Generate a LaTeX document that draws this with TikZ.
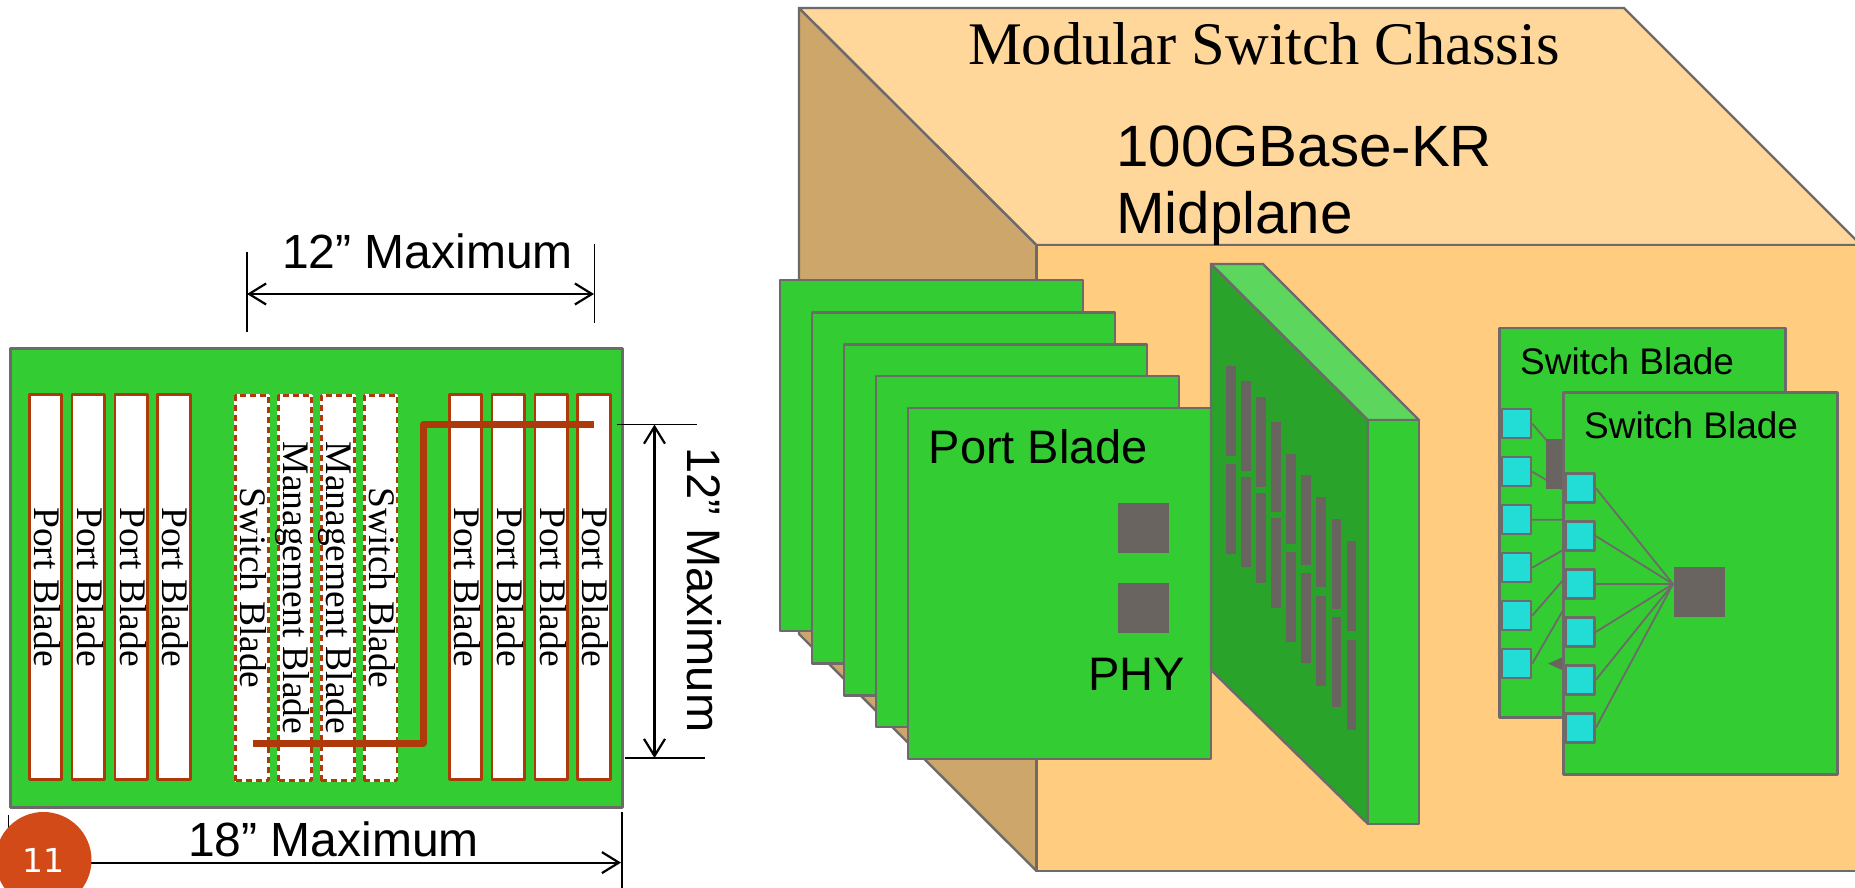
\documentclass[tikz,border=0pt]{standalone}
\usepackage{fontspec}
\setmainfont{Liberation Sans}
\newfontfamily\slotfont{Liberation Serif}
\newfontfamily\pagefont{DejaVu Sans}
\usepackage{tikz}
\usetikzlibrary{arrows.meta,positioning}
\definecolor{chtop}{RGB}{255,215,155}
\definecolor{chfront}{RGB}{255,204,128}
\definecolor{chside}{RGB}{204,166,106}
\definecolor{bdgreen}{RGB}{51,204,51}
\definecolor{bddark}{RGB}{41,163,41}
\definecolor{bdlight}{RGB}{92,214,92}
\definecolor{edgegrey}{RGB}{110,106,106}
\definecolor{chipgrey}{RGB}{105,100,96}
\definecolor{sqcyan}{RGB}{34,221,214}
\definecolor{tracered}{RGB}{174,58,11}
\definecolor{pagered}{RGB}{210,74,23}
\newcommand{\slottext}[1]{\rotatebox{-90}{\slotfont\fontsize{37.5}{40}\selectfont\raisebox{0pt}[0.6em][0pt]{#1}}}

\begin{document}
\begin{tikzpicture}[x=1pt, y=-1pt, node distance=16.6pt and 7.4pt, line join=round,
  faceline/.style={draw=edgegrey, line width=2.4pt},
  blade/.style={rectangle, faceline, fill=bdgreen, inner sep=0pt},
  portblade/.style={blade, minimum width=303pt, minimum height=351pt},
  chip/.style={rectangle, fill=chipgrey, inner sep=0pt, minimum width=51pt, minimum height=50pt},
  midbar/.style={rectangle, fill=chipgrey, inner sep=0pt, anchor=north, minimum width=9.5pt, minimum height=90pt},
  sqport/.style={rectangle, draw=edgegrey, line width=2.4pt, fill=sqcyan, inner sep=0pt, minimum width=29pt, minimum height=29pt},
  wire/.style={draw=edgegrey, line width=1.8pt},
  slot/.style={rectangle, draw=tracered, line width=2.8pt, fill=white, inner sep=0pt, minimum width=32.7pt, minimum height=385pt},
  dashslot/.style={slot, draw=white, postaction={draw=tracered, dash pattern=on 6pt off 4pt}},
  dimarrow/.style={<->, >={Straight Barb[length=17pt, width=21pt]}, line width=2.2pt},
  dimtick/.style={line width=1.5pt},
  txt/.style={anchor=base west, inner sep=0pt},
  bigtxt/.style={txt, font=\fontsize{48}{50}\selectfont},
  swtxt/.style={txt, font=\fontsize{37}{40}\selectfont}]

  \path[use as bounding box, clip] (0,0) rectangle (1855,887.4);
  \fill[white] (0,0) rectangle (1855,889);

  % Chassis
  \path[faceline, fill=chside] (799,8) -- (1036.5,245) -- (1036.5,871) -- (799,634) -- cycle;
  \path[faceline, fill=chtop] (799,8) -- (1624,8) -- (1861,245) -- (1036.5,245) -- cycle;
  \path[faceline, fill=chfront] (1036.5,245) rectangle (1865,871);
  \node[txt, font=\slotfont\fontsize{60.5}{62}\selectfont] (chtitle) at (968,65) {Modular Switch Chassis};
  \node[txt, font=\fontsize{58.3}{60}\selectfont] (kr) at (1116,166.7) {100GBase-KR};
  \node[txt, font=\fontsize{58.3}{60}\selectfont] (midpl) at (1116,233.3) {Midplane};

  % Port blades
  \node[portblade] (pb1) at (931.5,455.5) {};
  \node[portblade] (pb2) at (963.5,488) {};
  \node[portblade] (pb3) at (995.5,520) {};
  \node[portblade] (pb4) at (1027.5,551.5) {};
  \node[portblade] (pb5) at (1059.5,583.5) {};
  \node[bigtxt, font=\fontsize{47}{50}\selectfont] (pbtxt) at (928.5,463) {Port Blade};
  \node[chip] (phya) at (1143.5,528) {};
  \node[chip] (phyb) at (1143.5,608) {};
  \node[bigtxt, font=\fontsize{47}{50}\selectfont] (phytxt) at (1088,690) {PHY};

  % Midplane
  \path[faceline, fill=bddark] (1211,264) -- (1368,420) -- (1368,824) -- (1211,670) -- cycle;
  \path[faceline, fill=bdlight] (1211,264) -- (1263,264) -- (1419,420) -- (1368,420) -- cycle;
  \path[faceline, fill=bdgreen] (1368,420) rectangle (1419,824);

  % Midplane connectors
  \node[midbar] (ua) at (1231,365.5) {};
  \node[midbar] (ub) at (1246,381) {};
  \node[midbar] (uc) at (1261,397) {};
  \node[midbar] (ud) at (1276,422) {};
  \node[midbar] (ue) at (1291,453.5) {};
  \node[midbar] (uf) at (1306,475) {};
  \node[midbar] (ug) at (1321,497) {};
  \node[midbar] (uh) at (1336.5,519) {};
  \node[midbar] (ui) at (1351.5,541) {};
  \node[midbar] (la) at (1231,464) {};
  \node[midbar] (lb) at (1246,477) {};
  \node[midbar] (lc) at (1261,493) {};
  \node[midbar] (ld) at (1276,518) {};
  \node[midbar] (le) at (1291,552) {};
  \node[midbar] (lf) at (1306,573) {};
  \node[midbar] (lg) at (1321,595.5) {};
  \node[midbar] (lh) at (1336.5,617) {};
  \node[midbar] (li) at (1351.5,639.5) {};

  % Rear switch blade
  \node[blade, minimum width=286pt, minimum height=389pt] (swback) at (1642.5,522.8) {};
  \node[swtxt] (swbacktxt) at (1520,374) {Switch Blade};
  \node[sqport] (sqa) at (1516.5,423.7) {};
  \node[sqport, below=of sqa] (sqb) {};
  \node[sqport, below=of sqb] (sqc) {};
  \node[sqport, below=of sqc] (sqd) {};
  \node[sqport, below=of sqd] (sqe) {};
  \node[sqport, below=of sqe] (sqf) {};
  \coordinate (swjoin) at (1615,520);
  \draw[wire] (sqa.east) -- (swjoin);
  \draw[wire] (sqb.east) -- (swjoin);
  \draw[wire] (sqc.east) -- (swjoin);
  \draw[wire] (sqd.east) -- (swjoin);
  \draw[wire] (sqe.east) -- (swjoin);
  \draw[wire] (sqf.east) -- (swjoin);
  \node[chip] (chipback) at (1571.5,464.3) {};
  \fill[chipgrey] (1548,663.6) -- (1563,657) -- (1563,670.5) -- cycle;

  % Front switch blade
  \node[blade, minimum width=274pt, minimum height=382pt] (swfront) at (1700.5,583.5) {};
  \node[swtxt] (swfronttxt) at (1584,438) {Switch Blade};
  \node[sqport] (sqg) at (1580,488) {};
  \node[sqport, below=of sqg] (sqh) {};
  \node[sqport, below=of sqh] (sqi) {};
  \node[sqport, below=of sqi] (sqj) {};
  \node[sqport, below=of sqj] (sqk) {};
  \node[sqport, below=of sqk] (sql) {};
  \node[chip] (chipfront) at (1699.5,592) {};
  \coordinate (frontjoin) at (1673,584);
  \draw[wire] (sqg.east) -- (frontjoin);
  \draw[wire] (sqh.east) -- (frontjoin);
  \draw[wire] (sqi.east) -- (frontjoin);
  \draw[wire] (sqj.east) -- (frontjoin);
  \draw[wire] (sqk.east) -- (frontjoin);
  \draw[wire] (sql.east) -- (frontjoin);

  % Board
  \node[blade, minimum width=612pt, minimum height=459pt] (board) at (316.5,578) {};
  \node[slot] (pa) at (45.5,587) {\slottext{Port Blade}};
  \node[slot, right=of pa] (pb) {\slottext{Port Blade}};
  \node[slot, right=of pb] (pc) {\slottext{Port Blade}};
  \node[slot, right=of pc] (pd) {\slottext{Port Blade}};
  \node[dashslot] (sa) at (252,588) {\slottext{Switch Blade}};
  \node[dashslot, right=of sa] (ma) {\slottext{Management Blade}};
  \node[dashslot, right=of ma] (mb) {\slottext{Management Blade}};
  \node[dashslot, right=of mb] (sb) {\slottext{Switch Blade}};
  \node[slot] (pe) at (465.5,587) {\slottext{Port Blade}};
  \node[slot, right=of pe] (pf) {\slottext{Port Blade}};
  \node[slot, right=of pf] (pg) {\slottext{Port Blade}};
  \node[slot, right=of pg] (ph) {\slottext{Port Blade}};

  % Trace
  \coordinate (trstart) at (252.5,743);
  \coordinate (trlow) at (423,743);
  \coordinate (trhigh) at (423,424.6);
  \coordinate (trend) at (593.7,424.6);
  \draw[tracered, line width=7pt] (trstart) -- (trlow) -- (trhigh) -- (trend);

  % Dimensions
  \coordinate (topl) at (247,294);
  \coordinate (topr) at (594,294);
  \coordinate (topla) at (247,252);
  \coordinate (toplb) at (247,332);
  \coordinate (topra) at (594.6,244);
  \coordinate (toprb) at (594.6,323);
  \draw[dimtick] (topla) -- (toplb);
  \draw[dimtick] (topra) -- (toprb);
  \draw[dimarrow] (topl) -- (topr);
  \node[bigtxt] (toptxt) at (282,269) {12” Maximum};

  \coordinate (rgta) at (654.5,424.6);
  \coordinate (rgtb) at (654.5,758);
  \coordinate (rgtaa) at (617,424.6);
  \coordinate (rgtab) at (696.5,424.6);
  \coordinate (rgtba) at (625,758);
  \coordinate (rgtbb) at (704.5,758);
  \draw[dimtick] (rgtaa) -- (rgtab);
  \draw[dimtick] (rgtba) -- (rgtbb);
  \draw[dimarrow] (rgta) -- (rgtb);
  \node[rotate=-90, inner sep=0pt, font=\fontsize{47}{50}\selectfont] (rgttxt) at (704,590) {12” Maximum};

  \coordinate (botl) at (8.5,862.6);
  \coordinate (botr) at (621,862.6);
  \coordinate (botla) at (8.5,815);
  \coordinate (botlb) at (8.5,889);
  \coordinate (botra) at (622,812);
  \coordinate (botrb) at (622,889);
  \draw[dimtick] (botla) -- (botlb);
  \draw[dimtick] (botra) -- (botrb);
  \draw[dimarrow] (botl) -- (botr);
  \node[bigtxt] (bottxt) at (188,856) {18” Maximum};

  % Page number
  \node[circle, fill=pagered, inner sep=0pt, minimum size=96pt, text=white, font=\pagefont\fontsize{33}{35}\selectfont] (pagenum) at (43.5,860) {11};
\end{tikzpicture}
\end{document}
